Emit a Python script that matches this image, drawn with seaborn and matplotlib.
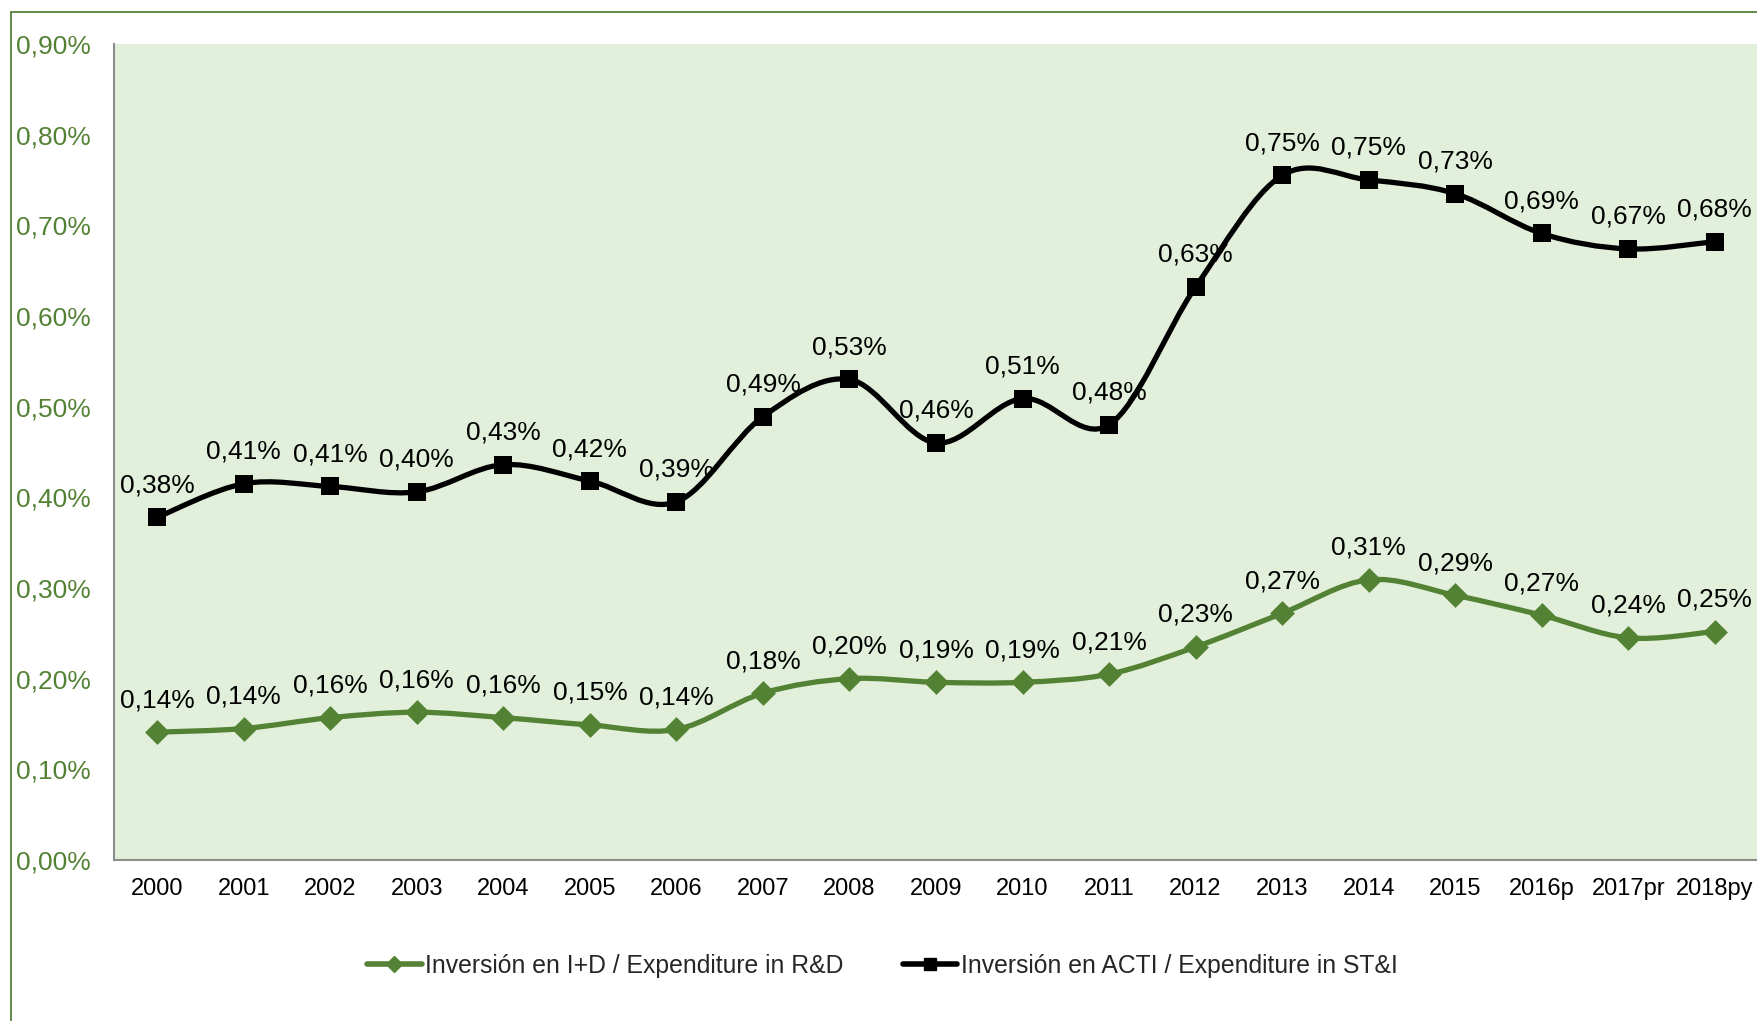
import numpy as np
import pandas as pd
import matplotlib.pyplot as plt
import seaborn as sns
from matplotlib.path import Path
from matplotlib.patches import PathPatch, Rectangle
from matplotlib.lines import Line2D

years = ["2000", "2001", "2002", "2003", "2004", "2005", "2006", "2007", "2008", "2009",
         "2010", "2011", "2012", "2013", "2014", "2015", "2016p", "2017pr", "2018py"]

# values in percent of GDP
rd_values = [0.141, 0.145, 0.157, 0.163, 0.157, 0.149, 0.144, 0.184, 0.200, 0.196,
             0.196, 0.205, 0.235, 0.272, 0.309, 0.292, 0.270, 0.245, 0.252]
sti_values = [0.378, 0.415, 0.412, 0.406, 0.436, 0.418, 0.395, 0.489, 0.530, 0.460,
              0.509, 0.480, 0.632, 0.755, 0.750, 0.735, 0.691, 0.674, 0.682]

rd_labels = ["0,14%", "0,14%", "0,16%", "0,16%", "0,16%", "0,15%", "0,14%", "0,18%", "0,20%", "0,19%",
             "0,19%", "0,21%", "0,23%", "0,27%", "0,31%", "0,29%", "0,27%", "0,24%", "0,25%"]
sti_labels = ["0,38%", "0,41%", "0,41%", "0,40%", "0,43%", "0,42%", "0,39%", "0,49%", "0,53%", "0,46%",
              "0,51%", "0,48%", "0,63%", "0,75%", "0,75%", "0,73%", "0,69%", "0,67%", "0,68%"]

rd_name = "Inversión en I+D / Expenditure in R&D"
sti_name = "Inversión en ACTI / Expenditure in ST&I"

GREEN = "#548235"
BLACK = "#000000"
AXIS_GREY = "#8c8c8c"
PLOT_BG = "#e2efda"

sns.set_style("white")
plt.rcParams["font.family"] = ["Liberation Sans", "DejaVu Sans"]


def smooth_path(x, y):
    # Excel style smoothed line: cubic bezier through every point
    pts = np.column_stack([x, y]).astype(float)
    p = np.vstack([pts[0], pts, pts[-1]])
    verts = [pts[0]]
    codes = [Path.MOVETO]
    for i in range(1, len(p) - 2):
        c1 = p[i] + (p[i + 1] - p[i - 1]) / 6
        c2 = p[i + 1] - (p[i + 2] - p[i]) / 6
        verts += [c1, c2, p[i + 1]]
        codes += [Path.CURVE4] * 3
    return Path(verts, codes)


df = pd.DataFrame({"pos": np.arange(len(years)), "year": years,
                   "rd": rd_values, "sti": sti_values})

fig = plt.figure(figsize=(17.58, 10.21), dpi=100)
fig.patches.append(Rectangle((11 / 1758, -0.1), 1.2, 1 - 12 / 1021 + 0.1, transform=fig.transFigure,
                             fill=False, edgecolor=GREEN, linewidth=1.3))
ax = fig.add_axes([114 / 1758, 1 - 860 / 1021, 1 - 114 / 1758, (860 - 44) / 1021])
ax.set_facecolor(PLOT_BG)

for col, color, marker, size, labels in [("rd", GREEN, "D", 160, rd_labels),
                                          ("sti", BLACK, "s", 175, sti_labels)]:
    ax.add_patch(PathPatch(smooth_path(df["pos"], df[col]), facecolor="none",
                           edgecolor=color, linewidth=3.8, zorder=3, capstyle="round"))
    sns.scatterplot(data=df, x="pos", y=col, marker=marker, s=size, color=color,
                    linewidth=0, zorder=4, ax=ax, legend=False)
    for xp, yv, lab in zip(df["pos"], df[col], labels):
        ax.annotate(lab, (xp, yv), xytext=(0, 18), textcoords="offset points",
                    ha="center", va="baseline", fontsize=19, color="black", zorder=5)

ax.set_xlim(-0.5, len(years) - 0.5)
ax.set_ylim(0, 0.9)
ax.set_yticks(np.arange(0, 0.91, 0.1))
ax.set_yticklabels([f"{v:.2f}%".replace(".", ",") for v in np.arange(0, 0.91, 0.1)])
ax.set_xticks(np.arange(-0.5, len(years), 1))
ax.set_xticklabels([])
ax.set_xticks(np.arange(len(years)), minor=True)
ax.set_xticklabels(years, minor=True)
ax.set_xlabel("")
ax.set_ylabel("")

ax.tick_params(axis="y", colors=AXIS_GREY, labelcolor=GREEN, labelsize=19,
               length=6, width=1.3, pad=11)
ax.tick_params(axis="x", which="major", colors=AXIS_GREY, length=6, width=1.3, direction="out")
ax.tick_params(axis="x", which="minor", length=0, labelsize=17, labelcolor="black", pad=13)

for side in ["top", "right"]:
    ax.spines[side].set_visible(False)
for side in ["left", "bottom"]:
    ax.spines[side].set_color(AXIS_GREY)
    ax.spines[side].set_linewidth(1.5)

handles = [Line2D([], [], color=GREEN, linewidth=4, marker="D", markersize=8),
           Line2D([], [], color=BLACK, linewidth=4, marker="s", markersize=9)]
fig.legend(handles, [rd_name, sti_name], loc="center", bbox_to_anchor=(0.502, 0.054),
           ncol=2, frameon=False, fontsize=17.8, handlelength=2.2, handletextpad=0.15,
           columnspacing=2.4)

fig.savefig("out.png", dpi=100)
